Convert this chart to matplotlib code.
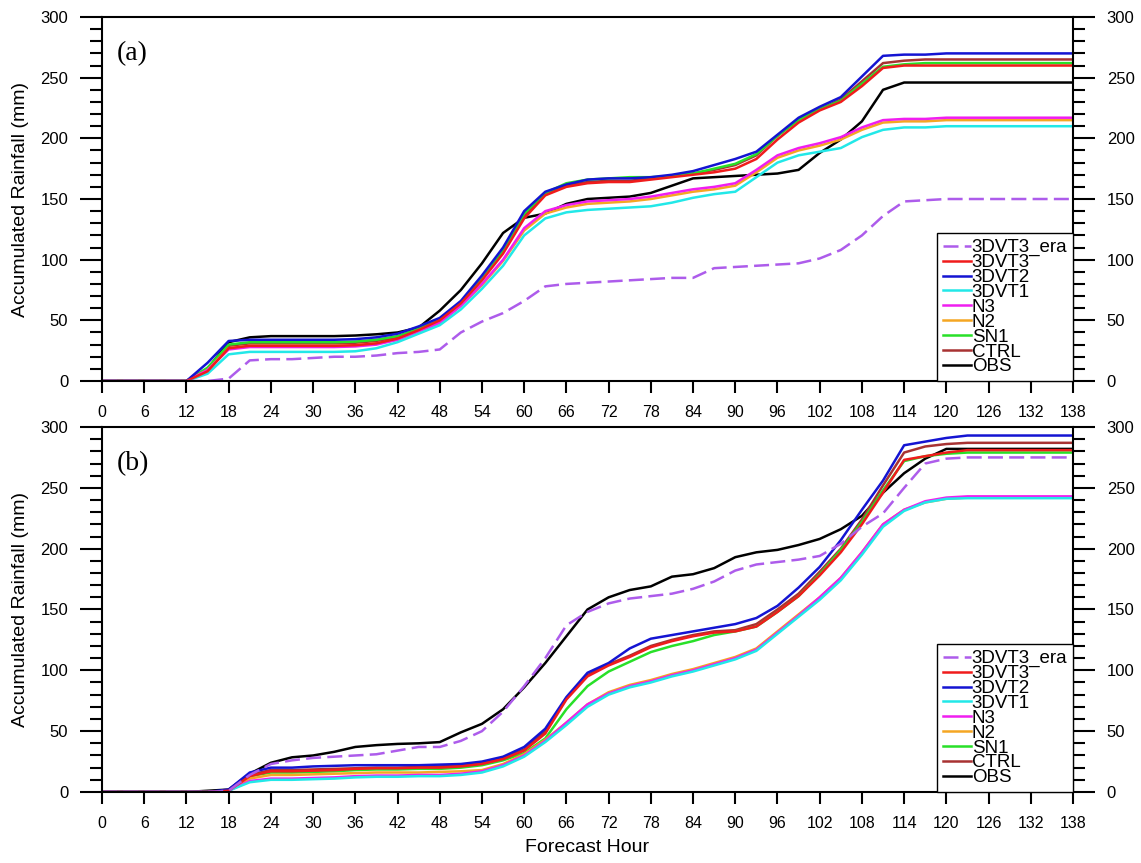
import matplotlib
matplotlib.use('Agg')
import matplotlib.pyplot as plt
from matplotlib.ticker import MultipleLocator

plt.rcParams['font.family'] = ['Liberation Sans', 'DejaVu Sans']

# forecast hours, every 3 h
HOURS = list(range(0, 139, 3))

# ----- panel (a) -----
OBS_A = [0, 0, 0, 0, 0,
         10, 32, 36, 37, 37, 37, 37, 37.5, 38.5, 40,
         44, 58, 75, 97, 122, 134.5, 138, 146, 150, 151,
         152, 155, 161, 167, 168, 169, 170, 171, 174, 188,
         199, 214, 240, 246, 246, 246, 246, 246, 246, 246,
         246, 246]
ERA_A = [0, 0, 0, 0, 0,
         0, 2, 17, 18, 18, 19, 20, 20, 21, 23,
         24, 26, 40, 49, 56, 66, 78, 80, 81, 82,
         83, 84, 85, 85, 93, 94, 95, 96, 97, 101,
         108, 120, 136, 148, 149, 150, 150, 150, 150, 150,
         150, 150]
DVT3_A = [0, 0, 0, 0, 0,
          8, 27, 29, 29, 29, 29, 29, 29.5, 31, 35,
          42, 50, 64, 83, 105, 134, 153, 160, 163, 164,
          164, 166, 168, 170, 172, 175, 183, 199, 213, 223,
          230, 243, 258, 260, 260, 260, 260, 260, 260, 260,
          260, 260]
DVT2_A = [0, 0, 0, 0, 0,
          15, 33, 34, 34, 34, 34, 34, 34.5, 36, 39,
          45, 52, 66, 87, 110, 140, 156, 162, 166, 167,
          167, 168, 170, 173, 178, 183, 189, 203, 217, 226,
          234, 251, 268, 269, 269, 270, 270, 270, 270, 270,
          270, 270]
DVT1_A = [0, 0, 0, 0, 0,
          6, 22, 24, 24, 24, 24, 24, 24.5, 27, 32,
          39, 46, 59, 76, 95, 120, 134, 139, 141, 142,
          143, 144, 147, 151, 154, 156, 168, 180, 186, 189,
          192, 201, 207, 209, 209, 210, 210, 210, 210, 210,
          210, 210]
N3_A = [0, 0, 0, 0, 0,
        9, 26, 28, 28, 28, 28, 28, 28.5, 30, 34,
        41, 48, 62, 80, 100, 126, 140, 145, 148, 149,
        150, 152, 155, 158, 160, 163, 174, 186, 192, 196,
        201, 209, 215, 216, 216, 217, 217, 217, 217, 217,
        217, 217]
N2_A = [0, 0, 0, 0, 0,
        9, 27, 29, 29, 29, 29, 29, 29.5, 31, 34,
        41, 48, 62, 79, 99, 124, 138, 143, 146, 147,
        148, 150, 153, 156, 158, 161, 172, 184, 190, 194,
        199, 207, 213, 214, 214, 215, 215, 215, 215, 215,
        215, 215]
SN1_A = [0, 0, 0, 0, 0,
         11, 30, 32, 32, 32, 32, 32, 32.5, 34, 37,
         43, 50, 64, 84, 107, 138, 155, 163, 166, 167,
         168, 168, 169, 171, 175, 179, 187, 202, 215, 224,
         231, 245, 259, 261, 262, 262, 262, 262, 262, 262,
         262, 262]
CTRL_A = [0, 0, 0, 0, 0,
          9, 29, 31, 31, 31, 31, 31, 31.5, 33, 36,
          43, 50, 64, 84, 107, 136, 154, 161, 164, 165,
          165, 167, 169, 171, 174, 178, 186, 202, 216, 224,
          232, 247, 262, 264, 265, 265, 265, 265, 265, 265,
          265, 265]

# ----- panel (b) -----
OBS_B = [0, 0, 0, 0, 0,
         1, 2, 15, 24, 28.5, 30, 33, 37, 38.5, 39.5,
         40, 41, 49, 56, 68, 86, 106, 128, 150, 160,
         166, 169, 177, 179, 184, 193, 197, 199, 203, 208,
         216, 227, 246, 262, 274, 282, 282, 282, 282, 282,
         282, 282]
ERA_B = [0, 0, 0, 0, 0,
         0, 1, 14, 23, 26, 28, 29, 30, 31, 34,
         37, 37, 42, 50, 66, 87, 110, 137, 148, 155,
         159, 161, 163, 167, 173, 182, 187, 189, 191, 194,
         204, 218, 229, 250, 270, 274, 275, 275, 275, 275,
         275, 275]
DVT3_B = [0, 0, 0, 0, 0,
          0, 1, 13, 17, 17, 17.5, 18, 19, 19.5, 19.5,
          20, 20, 21, 23, 27, 34, 48, 76, 95, 104,
          111, 119, 124, 128, 131, 132, 136, 148, 161, 178,
          197, 220, 246, 273, 276, 279, 281, 281, 281, 281,
          281, 281]
DVT2_B = [0, 0, 0, 0, 0,
          0, 2, 16, 20, 20, 21, 21.5, 22, 22, 22,
          22, 22.5, 23, 25, 29, 37, 52, 78, 98, 106,
          118, 126, 129, 132, 135, 138, 143, 153, 168, 185,
          207, 232, 256, 285, 288, 291, 293, 293, 293, 293,
          293, 293]
DVT1_B = [0, 0, 0, 0, 0,
          0, 1, 8, 10, 10, 10.5, 11, 12, 12.5, 12.5,
          13, 13, 14, 16, 21, 29, 41, 55, 70, 80,
          86, 90, 95, 99, 104, 109, 116, 130, 144, 158,
          174, 195, 218, 231, 238, 241, 241.5, 241.5, 241.5, 241.5,
          241.5, 241.5]
N3_B = [0, 0, 0, 0, 0,
        0, 1, 9, 11, 11, 11.5, 12, 13, 13.5, 13.5,
        14, 14, 15, 17, 22, 30, 42, 57, 72, 81,
        87, 91, 96, 100, 105, 110, 117, 131, 145, 160,
        176, 197, 220, 232, 239, 242, 243, 243, 243, 243,
        243, 243]
N2_B = [0, 0, 0, 0, 0,
        0, 1, 11, 14, 14, 14.5, 15, 15.5, 16, 16,
        16, 16.5, 17, 18, 23, 31, 43, 57, 72, 82,
        88, 92, 97, 101, 106, 111, 118, 132, 146, 160,
        176, 197, 220, 232, 238, 241, 242, 242, 242, 242,
        242, 242]
SN1_B = [0, 0, 0, 0, 0,
         0, 1, 13, 16, 16, 16.5, 17, 18, 18.5, 18.5,
         19, 19, 20, 22, 26, 32, 44, 68, 87, 99,
         107, 115, 120, 124, 129, 132, 136, 148, 161, 179,
         199, 222, 248, 272, 276, 278, 279, 279, 279, 279,
         279, 279]
CTRL_B = [0, 0, 0, 0, 0,
          0, 1, 14, 18, 18, 18.5, 19, 19.5, 20, 20,
          20.5, 21, 22, 24, 28, 35, 50, 77, 96, 105,
          112, 120, 125, 129, 132, 133, 138, 150, 163, 181,
          200, 224, 252, 279, 284, 286, 287, 287, 287, 287,
          287, 287]

# legend order
LABELS = ['3DVT3_era', '3DVT3', '3DVT2', '3DVT1', 'N3', 'N2', 'SN1', 'CTRL', 'OBS']
COLORS = {
    '3DVT3_era': '#AD5CEB',
    '3DVT3': '#F01C1C',
    '3DVT2': '#1414D2',
    '3DVT1': '#22E8E8',
    'N3': '#F01EF0',
    'N2': '#F5A623',
    'SN1': '#28E028',
    'CTRL': '#A83232',
    'OBS': '#000000',
}

SERIES_A = {'3DVT3_era': ERA_A, '3DVT3': DVT3_A, '3DVT2': DVT2_A, '3DVT1': DVT1_A,
            'N3': N3_A, 'N2': N2_A, 'SN1': SN1_A, 'CTRL': CTRL_A, 'OBS': OBS_A}
SERIES_B = {'3DVT3_era': ERA_B, '3DVT3': DVT3_B, '3DVT2': DVT2_B, '3DVT1': DVT1_B,
            'N3': N3_B, 'N2': N2_B, 'SN1': SN1_B, 'CTRL': CTRL_B, 'OBS': OBS_B}


def style_axes(ax):
    ax.set_xlim(0, 138)
    ax.set_ylim(0, 300)
    ax.set_xticks(range(0, 139, 6))
    ax.yaxis.set_major_locator(MultipleLocator(50))
    ax.yaxis.set_minor_locator(MultipleLocator(10))
    ax.tick_params(axis='y', which='both', direction='out', left=True, right=True,
                   labelleft=True, labelright=True, width=1.5, labelsize=12, pad=8.5)
    ax.tick_params(axis='y', which='major', length=15.8)
    ax.tick_params(axis='y', which='minor', length=8.6)
    ax.tick_params(axis='x', which='major', direction='out', length=8.6, width=1.5,
                   labelsize=11.5, pad=9, top=False)
    for sp in ax.spines.values():
        sp.set_linewidth(1.5)
    ax.set_ylabel('Accumulated Rainfall (mm)', fontsize=14)
    ax.yaxis.set_label_coords(-0.075, 0.5)


def draw_panel(ax, series, tag):
    style_axes(ax)
    handles = {}
    # plot order: OBS underneath, dashed on top
    for lbl in reversed(LABELS):
        ls = (0, (6, 2.5)) if lbl == '3DVT3_era' else '-'
        ln, = ax.plot(HOURS, series[lbl], color=COLORS[lbl], lw=1.8, ls=ls,
                      solid_joinstyle='round')
        handles[lbl] = ln
    leg = ax.legend([handles[l] for l in LABELS], LABELS, loc='lower right',
                    bbox_to_anchor=(1, 0), borderaxespad=0, fontsize=13.5,
                    labelspacing=-0.12, handlelength=1.5, handletextpad=0.05,
                    borderpad=0.3, fancybox=False, framealpha=1, edgecolor='black')
    leg.get_frame().set_linewidth(1.0)
    ax.text(0.0155, 0.90, tag, transform=ax.transAxes, family=['Liberation Serif'],
            fontsize=20, ha='left', va='center')


fig = plt.figure(figsize=(11.41, 8.63), dpi=100)
ax_a = fig.add_axes([0.0894, 0.5585, 0.851, 0.4218])
ax_b = fig.add_axes([0.0894, 0.0823, 0.851, 0.4229])

draw_panel(ax_a, SERIES_A, '(a)')
draw_panel(ax_b, SERIES_B, '(b)')

ax_b.set_xlabel('Forecast Hour', fontsize=14)
ax_b.xaxis.set_label_coords(0.5, -0.13)

fig.savefig('out.png', dpi=100)
